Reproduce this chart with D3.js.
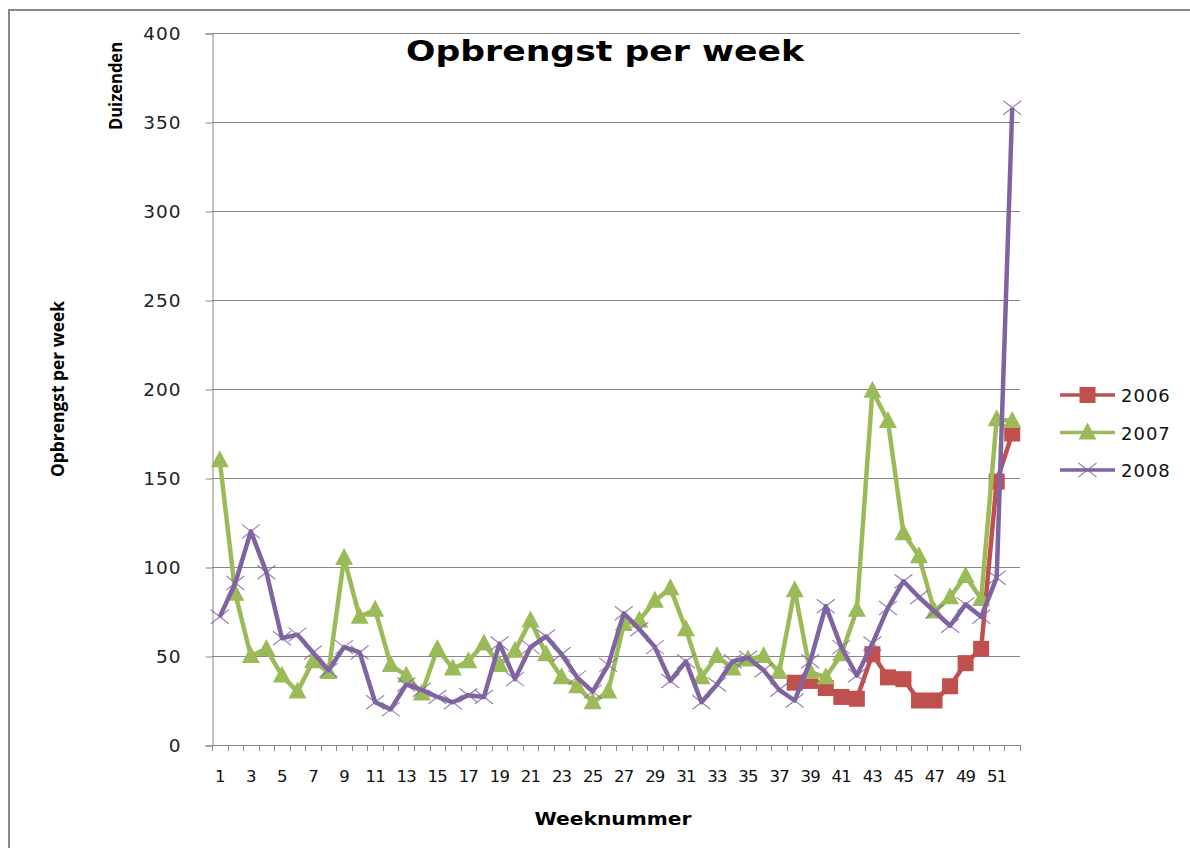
<!DOCTYPE html>
<html>
<head>
<meta charset="utf-8">
<script src="https://cdn.jsdelivr.net/npm/d3@7"></script>
<style>
  html, body { margin: 0; padding: 0; background: #fff; }
  svg { display: block; }
</style>
</head>
<body>
<svg id="chart" width="1190" height="848"></svg>
<script>
// ---- Data ----
const weeks = d3.range(1, 53);
const yTicks = [0, 50, 100, 150, 200, 250, 300, 350, 400];
const seriesNames = ["2006", "2007", "2008"];
const seriesColors = ["#C0504D", "#9BBB59", "#8064A2"];

const v2006 = [null,null,null,null,null,null,null,null,null,null,
  null,null,null,null,null,null,null,null,null,null,
  null,null,null,null,null,null,null,null,null,null,
  null,null,null,null,null,null,null,35,36,32,
  27,26,51,38,37,25,25,33,46,54,
  148,175];
const v2007 = [160,85,50,54,39,30,47,41,105,72,
  76,45,39,29,54,43,47,57,45,53,
  70,51,38,33,24,30,68,70,81,88,
  65,38,50,43,48,50,41,87,41,38,
  51,76,199,182,119,106,75,83,95,82,
  183,182];
const v2008 = [72,91,120,97,60,62,52,42,55,52,
  24,20,34,31,27,24,28,27,57,37,
  55,61,51,38,30,45,74,65,55,36,
  47,24,34,47,49,42,31,25,47,78,
  55,39,57,77,92,83,75,67,79,72,
  94,358];
const seriesValues = [v2006, v2007, v2008];

// ---- Layout ----
const svg = d3.select("#chart");
const plot = {left: 212, right: 1020, top: 33, bottom: 745};

// outer border (partial, as in reference)
svg.append("path")
  .attr("d", "M9,848 L9,10 L1190,10")
  .attr("fill", "none").attr("stroke", "#888").attr("stroke-width", 2);

const x = d3.scaleBand().domain(weeks).range([plot.left, plot.right]).padding(0);
const y = d3.scaleLinear().domain([0, 400]).range([plot.bottom, plot.top]);

// gridlines
svg.append("g").selectAll("line").data(yTicks.filter(d => d > 0)).join("line")
  .attr("x1", plot.left).attr("x2", plot.right)
  .attr("y1", d => y(d) + 0.5).attr("y2", d => y(d) + 0.5)
  .attr("stroke", "#868686").attr("stroke-width", 1);

// y axis
const yAxis = d3.axisLeft(y).tickValues(yTicks).tickSize(7).tickPadding(24);
const gy = svg.append("g").attr("transform", `translate(${plot.left + 0.5},0.5)`).call(yAxis);
gy.select(".domain").attr("stroke", "#868686");
gy.selectAll(".tick line").attr("stroke", "#868686");
gy.selectAll("text").attr("font-family", "'DejaVu Sans', Verdana, sans-serif")
  .attr("font-size", 18.5).attr("letter-spacing", 1).attr("fill", "#222");

// x axis: ticks between categories
const xAxisG = svg.append("g");
xAxisG.append("line").attr("x1", plot.left).attr("x2", plot.right)
  .attr("y1", plot.bottom + 0.5).attr("y2", plot.bottom + 0.5).attr("stroke", "#868686");
const boundaries = weeks.map(w => x(w)).concat([plot.right]);
xAxisG.selectAll("line.tk").data(boundaries).join("line").attr("class", "tk")
  .attr("x1", d => Math.round(d) + 0.5).attr("x2", d => Math.round(d) + 0.5)
  .attr("y1", plot.bottom).attr("y2", plot.bottom + 6).attr("stroke", "#868686");
xAxisG.selectAll("text").data(weeks.filter(w => w % 2 === 1)).join("text")
  .attr("x", w => x(w) + x.bandwidth() / 2).attr("y", 782)
  .attr("text-anchor", "middle")
  .attr("font-family", "'DejaVu Sans', Verdana, sans-serif")
  .attr("font-size", 16.5).attr("letter-spacing", -0.8).attr("fill", "#111")
  .text(w => w);

// titles
svg.append("text").attr("x", 605).attr("y", 61).attr("text-anchor", "middle")
  .attr("font-family", "'DejaVu Sans', Verdana, sans-serif").attr("font-weight", "bold")
  .attr("font-size", 29).attr("textLength", 398).attr("lengthAdjust", "spacingAndGlyphs")
  .attr("fill", "#000").text("Opbrengst per week");

svg.append("text").attr("transform", "translate(64,389) rotate(-90)")
  .attr("text-anchor", "middle")
  .attr("font-family", "'Open Sans', sans-serif").attr("font-weight", "bold")
  .attr("font-size", 18).attr("textLength", 176).attr("lengthAdjust", "spacingAndGlyphs")
  .attr("fill", "#000").text("Opbrengst per week");

svg.append("text").attr("transform", "translate(122,86) rotate(-90)")
  .attr("text-anchor", "middle")
  .attr("font-family", "'Open Sans', sans-serif").attr("font-weight", "bold")
  .attr("font-size", 18).attr("textLength", 88).attr("lengthAdjust", "spacingAndGlyphs")
  .attr("fill", "#000").text("Duizenden");

svg.append("text").attr("x", 613).attr("y", 825).attr("text-anchor", "middle")
  .attr("font-family", "'DejaVu Sans', Verdana, sans-serif").attr("font-weight", "bold")
  .attr("font-size", 17).attr("textLength", 157).attr("lengthAdjust", "spacingAndGlyphs")
  .attr("fill", "#000").text("Weeknummer");

// ---- Series ----
const cx = w => x(w) + x.bandwidth() / 2;
const line = d3.line().defined(d => d.v != null).x(d => cx(d.w)).y(d => y(d.v));

function drawMarker(g, type, color, px, py) {
  if (type === 0) {
    g.append("rect").attr("x", px - 8).attr("y", py - 8).attr("width", 16).attr("height", 16)
      .attr("fill", color);
  } else if (type === 1) {
    g.append("path").attr("d", `M${px},${py - 10} L${px + 9},${py + 7} L${px - 9},${py + 7} Z`)
      .attr("fill", color);
  } else {
    g.append("path").attr("d", `M${px - 9},${py - 7} L${px + 9},${py + 7} M${px - 9},${py + 7} L${px + 9},${py - 7}`)
      .attr("stroke", color).attr("stroke-width", 1.2).attr("fill", "none").attr("opacity", 0.8);
  }
}

seriesNames.forEach((name, i) => {
  const data = weeks.map((w, j) => ({w, v: seriesValues[i][j]}));
  const g = svg.append("g");
  g.append("path").datum(data).attr("d", line).attr("fill", "none")
    .attr("stroke", seriesColors[i]).attr("stroke-width", 4.5).attr("stroke-linejoin", "round");
  data.filter(d => d.v != null).forEach(d => drawMarker(g, i, seriesColors[i], cx(d.w), y(d.v)));
});

// ---- Legend ----
const legend = svg.append("g");
seriesNames.forEach((name, i) => {
  const ly = 395 + i * 37.5;
  legend.append("line").attr("x1", 1060).attr("x2", 1115).attr("y1", ly).attr("y2", ly)
    .attr("stroke", seriesColors[i]).attr("stroke-width", 3.5);
  drawMarker(legend, i, seriesColors[i], 1087.5, ly);
  legend.append("text").attr("x", 1121).attr("y", ly + 7)
    .attr("font-family", "'DejaVu Sans', Verdana, sans-serif")
    .attr("font-size", 18).attr("letter-spacing", 1).attr("fill", "#111").text(name);
});
</script>
</body>
</html>
